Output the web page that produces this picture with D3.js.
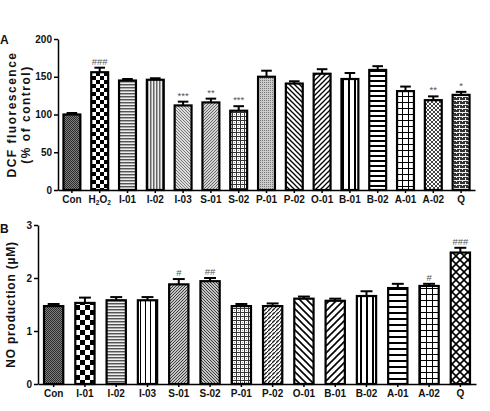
<!DOCTYPE html>
<html>
<head>
<meta charset="utf-8">
<script src="https://cdn.jsdelivr.net/npm/d3@7"></script>
<style>
  body { margin: 0; background: #fff; }
  svg { display: block; font-family: Arial, "Liberation Sans", sans-serif; }
  .axis text { font-weight: bold; font-size: 10px; fill: #111; }
  .axis path, .axis line { stroke: #000; stroke-width: 1.5px; }
</style>
</head>
<body>
<svg id="chart" width="490" height="411"></svg>
<script>
// panel A: DCF fluorescence (% of control)
const catsA = ["Con", "H2O2", "I-01", "I-02", "I-03", "S-01", "S-02", "P-01", "P-02", "O-01", "B-01", "B-02", "A-01", "A-02", "Q"];
const meanA = [100, 156, 145, 146, 112, 116, 105, 150, 141, 154, 147, 159, 131, 119, 126];
const semA  = [2, 6, 2, 2, 5, 5, 6, 8, 3, 6, 8, 5, 6, 5, 4];
const markA = ["", "###", "", "", "***", "**", "***", "", "", "", "", "", "", "**", "*"];
const ticksA = [0, 50, 100, 150, 200];

// panel B: NO production (uM)
const catsB = ["Con", "I-01", "I-02", "I-03", "S-01", "S-02", "P-01", "P-02", "O-01", "B-01", "B-02", "A-01", "A-02", "Q"];
const meanB = [1.47, 1.53, 1.58, 1.58, 1.88, 1.94, 1.47, 1.47, 1.61, 1.57, 1.66, 1.81, 1.85, 2.48];
const semB  = [0.04, 0.10, 0.06, 0.06, 0.10, 0.06, 0.04, 0.05, 0.04, 0.04, 0.09, 0.08, 0.04, 0.09];
const markB = ["", "", "", "", "#", "##", "", "", "", "", "", "", "#", "###"];
const ticksB = [0, 1, 2, 3];

// fill pattern per bar
const pattA = ["fineDark", "check4", "hFine", "vFine", "diagLight", "diagGrey", "plaid", "dots", "back5", "fwd5", "vWide", "hWide", "grid6", "diamondSmall", "brick"];
const pattB = ["fineDark", "check5", "hFine", "v5", "fwdDense", "backDense", "plaid", "dash", "back7", "fwd7", "v6", "h6", "grid6", "lattice"];

const svg = d3.select("#chart");
const defs = svg.append("defs");

function pat(id, w, h, bg, draw) {
  const p = defs.append("pattern").attr("id", id)
    .attr("patternUnits", "userSpaceOnUse").attr("width", w).attr("height", h);
  p.append("rect").attr("width", w).attr("height", h).attr("fill", bg);
  const g = p.append("g").attr("shape-rendering", "crispEdges");
  draw(g, w, h);
}
function px(g, x, y, w, h, c) { g.append("rect").attr("x", x).attr("y", y).attr("width", w).attr("height", h).attr("fill", c); }
function ln(g, x1, y1, x2, y2, c, sw) {
  g.append("line").attr("x1", x1).attr("y1", y1).attr("x2", x2).attr("y2", y2)
    .attr("stroke", c).attr("stroke-width", sw).attr("shape-rendering", "auto");
}

pat("fineDark", 2, 2, "#808080", g => { px(g, 0, 0, 1, 1, "#2a2a2a"); px(g, 1, 1, 1, 1, "#2a2a2a"); });
pat("check4", 8, 8, "#fff", g => { px(g, 0, 0, 4, 4, "#000"); px(g, 4, 4, 4, 4, "#000"); });
pat("check5", 10, 10, "#fff", g => { px(g, 0, 0, 5, 5, "#000"); px(g, 5, 5, 5, 5, "#000"); });
pat("hFine", 2, 3, "#eee", g => { px(g, 0, 0, 2, 1, "#555"); px(g, 0, 1, 2, 1, "#aaa"); });
pat("vFine", 3, 2, "#eee", g => { px(g, 0, 0, 1, 2, "#666"); px(g, 1, 0, 1, 2, "#aaa"); });
pat("diagLight", 3, 3, "#ddd", g => { px(g, 0, 0, 1, 1, "#777"); px(g, 1, 1, 1, 1, "#777"); px(g, 2, 2, 1, 1, "#777"); });
pat("diagGrey", 3, 3, "#d4d4d4", g => { px(g, 2, 0, 1, 1, "#666"); px(g, 1, 1, 1, 1, "#666"); px(g, 0, 2, 1, 1, "#666"); });
pat("plaid", 4, 4, "#fff", g => { px(g, 0, 0, 1, 4, "#333"); px(g, 0, 0, 4, 1, "#333"); px(g, 2, 2, 1, 1, "#999"); });
pat("dots", 2, 2, "#ccc", g => { px(g, 0, 0, 1, 1, "#777"); });
pat("back5", 5, 5, "#fff", g => { ln(g, -1, -1, 6, 6, "#000", 1.3); ln(g, -6, -1, 1, 6, "#000", 1.3); ln(g, 4, -1, 11, 6, "#000", 1.3); });
pat("fwd5", 5, 5, "#fff", g => { ln(g, -1, 6, 6, -1, "#000", 1.3); ln(g, -6, 6, 1, -1, "#000", 1.3); ln(g, 4, 6, 11, -1, "#000", 1.3); });
pat("back7", 7, 7, "#fff", g => { ln(g, -1, -1, 8, 8, "#000", 1.6); ln(g, -8, -1, 1, 8, "#000", 1.6); ln(g, 6, -1, 15, 8, "#000", 1.6); });
pat("fwd7", 7, 7, "#fff", g => { ln(g, -1, 8, 8, -1, "#000", 1.6); ln(g, -8, 8, 1, -1, "#000", 1.6); ln(g, 6, 8, 15, -1, "#000", 1.6); });
pat("fwdDense", 3, 3, "#fff", g => { ln(g, -1, 4, 4, -1, "#333", 1.1); ln(g, -4, 4, 1, -1, "#333", 1.1); ln(g, 2, 4, 7, -1, "#333", 1.1); });
pat("backDense", 3, 3, "#fff", g => { ln(g, -1, -1, 4, 4, "#333", 1.1); ln(g, -4, -1, 1, 4, "#333", 1.1); ln(g, 2, -1, 7, 4, "#333", 1.1); });
pat("vWide", 6, 4, "#fff", g => { px(g, 0, 0, 2, 4, "#000"); });
pat("v5", 5, 4, "#fff", g => { px(g, 0, 0, 1, 4, "#000"); });
pat("v6", 6, 4, "#fff", g => { px(g, 0, 0, 2, 4, "#000"); });
pat("hWide", 4, 5, "#fff", g => { px(g, 0, 0, 4, 2, "#000"); });
pat("h6", 4, 6, "#fff", g => { px(g, 0, 0, 4, 2, "#000"); });
pat("grid6", 6, 6, "#fff", g => { px(g, 0, 0, 1, 6, "#000"); px(g, 0, 0, 6, 1, "#000"); });
pat("diamondSmall", 4, 4, "#fff", g => { px(g, 1, 0, 2, 1, "#444"); px(g, 0, 1, 1, 2, "#444"); px(g, 3, 1, 1, 2, "#444"); px(g, 1, 3, 2, 1, "#444"); });
pat("brick", 6, 4, "#333", g => { px(g, 0, 0, 6, 1, "#eee"); px(g, 0, 0, 1, 2, "#eee"); px(g, 3, 2, 1, 2, "#eee"); });
pat("dash", 4, 4, "#fff", g => { ln(g, 0, 3, 3, 0, "#222", 1.4); px(g, 3, 3, 1, 1, "#222"); });
pat("lattice", 8, 8, "#fff", g => { ln(g, -1, -1, 9, 9, "#000", 1.6); ln(g, -1, 9, 9, -1, "#000", 1.6); });

function panel(cats, mean, sem, marks, patts, ticks, opts) {
  const g = svg.append("g");
  const x = d3.scaleBand().domain(cats).range(opts.xr).paddingInner(0.32).paddingOuter(0.16);
  const y = d3.scaleLinear().domain([0, ticks[ticks.length - 1]]).range(opts.yr);
  const rows = cats.map((c, i) => ({ c, m: mean[i], e: sem[i], k: marks[i], p: patts[i] }));

  // error bars (drawn first so the bar outline covers the foot)
  const eb = g.append("g").attr("stroke", "#000").attr("stroke-width", 2);
  eb.selectAll("line.v").data(rows).join("line").attr("class", "v")
    .attr("x1", d => x(d.c) + x.bandwidth() / 2).attr("x2", d => x(d.c) + x.bandwidth() / 2)
    .attr("y1", d => y(d.m)).attr("y2", d => y(d.m + d.e));
  eb.selectAll("line.cap").data(rows).join("line").attr("class", "cap")
    .attr("x1", d => x(d.c) + x.bandwidth() * 0.22).attr("x2", d => x(d.c) + x.bandwidth() * 0.78)
    .attr("y1", d => y(d.m + d.e)).attr("y2", d => y(d.m + d.e));

  g.append("g").selectAll("rect").data(rows).join("rect")
    .attr("x", d => x(d.c) + 1).attr("width", x.bandwidth() - 2)
    .attr("y", d => y(d.m)).attr("height", d => y(0) - y(d.m))
    .attr("fill", d => `url(#${d.p})`).attr("stroke", "#000").attr("stroke-width", 2.2);

  g.append("g").selectAll("text").data(rows).join("text")
    .attr("x", d => x(d.c) + x.bandwidth() / 2).attr("y", d => y(d.m + d.e) - 3)
    .attr("text-anchor", "middle").attr("font-size", 9.5).attr("fill", "#555")
    .text(d => d.k);

  g.append("g").attr("class", "axis").attr("transform", `translate(${opts.xr[0]},0)`)
    .call(d3.axisLeft(y).tickValues(ticks).tickFormat(d3.format("d")).tickSize(4).tickSizeOuter(0).tickPadding(2));

  const xa = g.append("g").attr("class", "axis").attr("transform", `translate(0,${opts.yr[0]})`)
    .call(d3.axisBottom(x).tickSize(3).tickSizeOuter(0).tickPadding(3));
  xa.selectAll("text").attr("font-size", 9.5);
  xa.selectAll(".tick text").filter(d => d === "H2O2").each(function () {
    const t = d3.select(this).text(null);
    t.append("tspan").text("H");
    t.append("tspan").text("2").attr("font-size", 6.5).attr("dy", 2);
    t.append("tspan").text("O").attr("dy", -2);
    t.append("tspan").text("2").attr("font-size", 6.5).attr("dy", 2);
  });

  const midY = (opts.yr[0] + opts.yr[1]) / 2;
  opts.title.forEach((line, i) => {
    svg.append("text").attr("transform", `translate(${opts.titleX[i]},${midY}) rotate(-90)`)
      .attr("text-anchor", "middle").attr("font-weight", "bold").attr("font-size", 12)
      .attr("letter-spacing", opts.ls).attr("fill", "#111").text(line);
  });
  svg.append("text").attr("x", 0).attr("y", opts.labelY).attr("font-weight", "bold")
    .attr("font-size", 12).attr("fill", "#111").text(opts.label);
}

panel(catsA, meanA, semA, markA, pattA, ticksA, {
  xr: [58, 475], yr: [190, 39], title: ["DCF fluorescence", "(% of control)"], titleX: [16, 30], ls: 1.5,
  label: "A", labelY: 44
});
panel(catsB, meanB, semB, markB, pattB, ticksB, {
  xr: [38, 476], yr: [384, 225], title: ["NO production (\u00b5M)"], titleX: [15], ls: 0.8,
  label: "B", labelY: 233
});
</script>
</body>
</html>
